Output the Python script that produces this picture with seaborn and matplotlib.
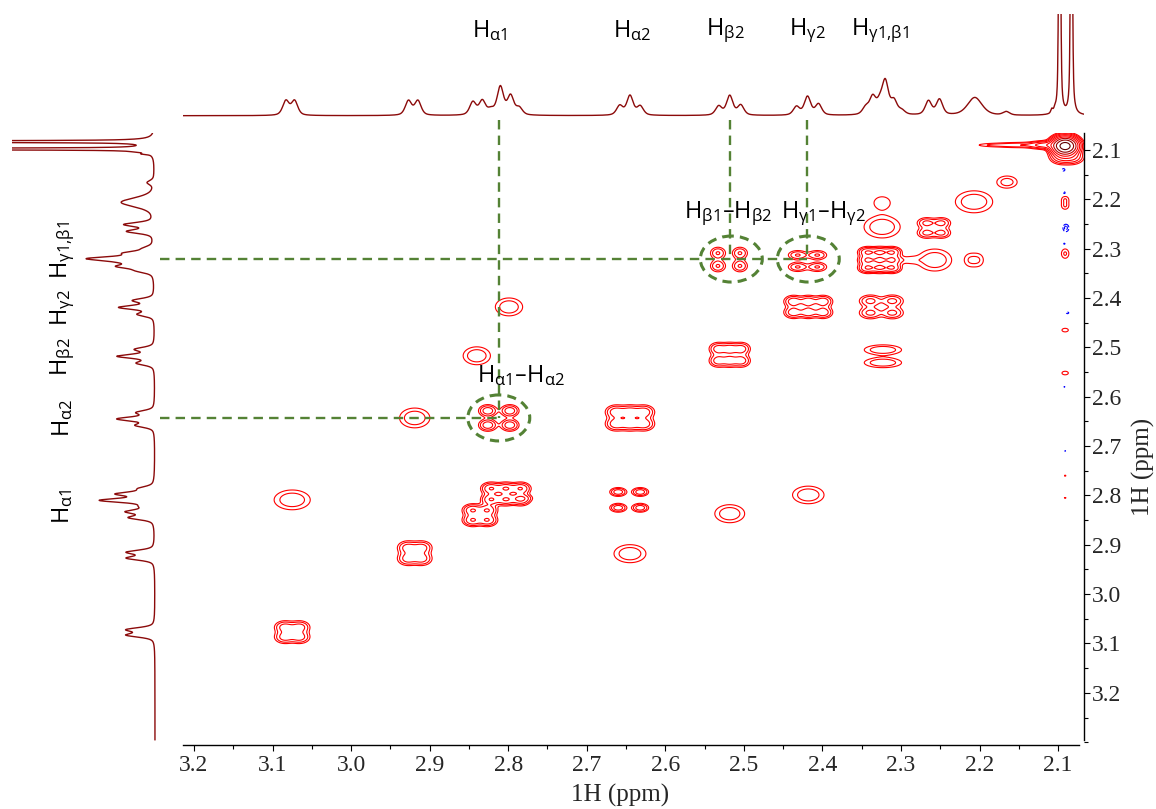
import numpy as np
import matplotlib
matplotlib.use('Agg')
import matplotlib.pyplot as plt
import seaborn as sns
from matplotlib.patches import Ellipse
from matplotlib.ticker import MultipleLocator, FormatStrFormatter

sns.set_theme(style='white')
plt.rcParams['font.family'] = ['Liberation Serif', 'DejaVu Serif']

# 1D proton lines: position (ppm), height (trace px), half width (ppm)
line_ppm = [3.083, 3.072, 2.927, 2.915,
            2.845, 2.833, 2.822, 2.810, 2.797, 2.786,
            2.658, 2.645, 2.632, 2.532, 2.518, 2.504,
            2.433, 2.419, 2.405,
            2.345, 2.336, 2.327, 2.320, 2.309, 2.299,
            2.265, 2.251, 2.206, 2.166, 2.108, 2.104, 2.098, 2.083]
line_height = [14.5, 14.5, 14.5, 14.5,
               13.0, 14.0, 5.0, 28.0, 19.0, 7.0,
               9.5, 19.5, 9.0, 9.0, 19.5, 10.0,
               8.5, 18.5, 11.0,
               7.0, 17.0, 10.0, 32.0, 13.5, 4.0,
               14.0, 15.5, 18.0, 3.5, 4.0, 3.0, 400.0, 400.0]
line_hwhm = [0.0048] * 27 + [0.011, 0.005, 0.0015, 0.0015, 0.0012, 0.0012]

# COSY cross peaks: centre (F2, F1), multiplet grid, spacing, amplitude, widths
peak_x = [3.075, 3.075, 2.919, 2.919, 2.812, 2.840, 2.799, 2.645, 2.646, 2.645,
          2.803, 2.836, 2.518, 2.418, 2.518, 2.519, 2.419, 2.418, 2.325, 2.323,
          2.327, 2.257, 2.324, 2.324, 2.258, 2.207, 2.207, 2.165,
          2.091, 2.089, 2.115, 2.150, 2.185, 2.290, 2.782,
          2.091, 2.091, 2.091, 2.091, 2.091, 2.091,
          2.093, 2.092, 2.090, 2.092, 2.088, 2.092, 2.091]
peak_y = [2.809, 3.077, 2.917, 2.643, 2.643, 2.517, 2.418, 2.643, 2.809, 2.918,
          2.797, 2.840, 2.837, 2.799, 2.515, 2.322, 2.325, 2.418, 2.418, 2.518,
          2.323, 2.323, 2.256, 2.207, 2.258, 2.205, 2.323, 2.165,
          2.092, 2.114, 2.090, 2.090, 2.090, 2.323, 2.805,
          2.207, 2.310, 2.465, 2.552, 2.760, 2.805,
          2.140, 2.187, 2.258, 2.290, 2.430, 2.580, 2.710]
peak_nx = [1, 2, 2, 1, 2, 1, 1, 3, 2, 1,
           3, 2, 1, 1, 3, 2, 2, 3, 2, 1,
           3, 1, 1, 1, 2, 1, 2, 1,
           1, 2, 1, 1, 1, 1, 1,
           1, 1, 1, 1, 1, 1,
           1, 1, 1, 1, 1, 1, 1]
peak_ny = [1, 2, 2, 1, 2, 1, 1, 2, 2, 1,
           2, 2, 1, 1, 2, 2, 2, 2, 2, 2,
           3, 1, 1, 1, 2, 1, 1, 1,
           1, 1, 1, 1, 1, 1, 1,
           2, 1, 1, 1, 1, 1,
           1, 1, 1, 1, 1, 1, 1]
peak_jx = [0, 0.019, 0.018, 0, 0.028, 0, 0, 0.018, 0.028, 0,
           0.019, 0.019, 0, 0, 0.015, 0.028, 0.025, 0.019, 0.028, 0,
           0.016, 0, 0, 0, 0.019, 0, 0.011, 0,
           0, 0.014, 0, 0, 0, 0, 0,
           0, 0, 0, 0, 0, 0,
           0, 0, 0, 0, 0, 0, 0]
peak_jy = [0, 0.020, 0.022, 0, 0.029, 0, 0, 0.024, 0.032, 0,
           0.022, 0.020, 0, 0, 0.024, 0.026, 0.024, 0.022, 0.024, 0.026,
           0.016, 0, 0, 0, 0.020, 0, 0, 0,
           0, 0, 0, 0, 0, 0, 0,
           0.013, 0, 0, 0, 0, 0,
           0, 0, 0, 0, 0, 0, 0]
peak_amp = [3.0, 4.5, 4.5, 3.0, 5.0, 3.0, 3.0, 5.0, 5.0, 3.0,
            6.0, 6.0, 3.0, 3.0, 4.5, 3.5, 3.5, 5.0, 4.0, 3.0,
            6.0, 3.0, 3.0, 1.6, 4.0, 3.0, 1.7, 2.5,
            150.0, 6.0, 8.0, 3.0, 1.5, 1.5, 1.6,
            1.8, 2.0, 1.5, 1.5, 1.15, 1.15,
            -1.5, -1.4, -2.2, -1.3, -1.4, -1.1, -1.1]
peak_sx = [0.0155, 0.0075, 0.0075, 0.013, 0.0066, 0.0117, 0.0117, 0.0075, 0.006, 0.0137,
           0.007, 0.007, 0.0128, 0.0135, 0.0065, 0.006, 0.0075, 0.0068, 0.0084, 0.016,
           0.0065, 0.0145, 0.0155, 0.0105, 0.007, 0.016, 0.006, 0.0095,
           0.008, 0.008, 0.012, 0.02, 0.015, 0.01, 0.008,
           0.004, 0.004, 0.0045, 0.0045, 0.002, 0.002,
           0.002, 0.0015, 0.003, 0.0015, 0.002, 0.0015, 0.0015]
peak_sy = [0.0135, 0.0075, 0.008, 0.0135, 0.007, 0.0122, 0.0122, 0.008, 0.005, 0.0123,
           0.007, 0.007, 0.0123, 0.012, 0.0075, 0.0075, 0.0058, 0.007, 0.0073, 0.0068,
           0.006, 0.015, 0.015, 0.0125, 0.0065, 0.015, 0.011, 0.009,
           0.009, 0.008, 0.0045, 0.0035, 0.0025, 0.006, 0.004,
           0.006, 0.008, 0.004, 0.004, 0.002, 0.002,
           0.003, 0.003, 0.006, 0.002, 0.002, 0.0015, 0.0015]

top_labels = ['α1', 'α2', 'β2', 'γ2', 'γ1{,}β1']
x_ticks = [3.2, 3.1, 3.0, 2.9, 2.8, 2.7, 2.6, 2.5, 2.4, 2.3, 2.2, 2.1]
y_ticks = [2.1, 2.2, 2.3, 2.4, 2.5, 2.6, 2.7, 2.8, 2.9, 3.0, 3.1, 3.2]

W, H = 1156, 809
fig = plt.figure(figsize=(W / 100, H / 100), dpi=100)
ax = fig.add_axes([183 / W, 1 - 745 / H, (1084 - 183) / W, (745 - 133) / H])
ax_top = fig.add_axes([183 / W, 1 - 120 / H, (1084 - 183) / W, (120 - 14) / H])
ax_left = fig.add_axes([12 / W, 1 - 745 / H, 148 / W, (745 - 133) / H])

xlim = (3.214, 2.067)
ylim = (3.3057, 2.0656)


def trace(ppm):
    out = np.zeros_like(ppm)
    for p, h, w in zip(line_ppm, line_height, line_hwhm):
        d = (ppm - p) / w
        out += h * (0.5 / (1 + d ** 2) + 0.5 * np.exp(-np.log(2) * d ** 2))
    return out


# 1D traces
trace_col = '#8b0a0a'
ppm_top = np.linspace(3.214, 2.067, 4000)
sns.lineplot(x=ppm_top, y=trace(ppm_top), ax=ax_top, color=trace_col, lw=1.0,
             sort=False, estimator=None)
ax_top.set_xlim(xlim)
ax_top.set_ylim(-4.3, 101.7)
ax_top.axis('off')

ppm_left = np.linspace(2.0656, 3.2955, 4000)
sns.lineplot(x=trace(ppm_left) * 1.85, y=ppm_left, ax=ax_left, color=trace_col, lw=1.0,
             sort=False, estimator=None)
ax_left.set_ylim(ylim)
ax_left.set_xlim(143, -5)
ax_left.axis('off')

# 2D map
gx = np.linspace(2.05, 3.23, 1200)
gy = np.linspace(2.05, 3.32, 950)
Z = np.zeros((gy.size, gx.size))
for x0, y0, nx_, ny_, jx, jy, a, sx_, sy_ in zip(peak_x, peak_y, peak_nx, peak_ny,
                                                  peak_jx, peak_jy, peak_amp, peak_sx, peak_sy):
    for i in range(nx_):
        for j in range(ny_):
            xc = x0 + (i - (nx_ - 1) / 2) * jx
            yc = y0 + (j - (ny_ - 1) / 2) * jy
            Z += a * np.outer(np.exp(-0.5 * ((gy - yc) / sy_) ** 2),
                              np.exp(-0.5 * ((gx - xc) / sx_) ** 2))

pos_levels = 1.8 ** np.arange(0, 10)
pos_colors = ['#ff0000'] * 6 + ['#c00000', '#900000', '#600000', '#400000']
ax.contour(gx, gy, Z, levels=pos_levels, colors=pos_colors, linewidths=0.8)
ax.contour(gx, gy, Z, levels=[-1.8, -1.0], colors='#0000ff', linewidths=0.8)

ax.set_xlim(xlim)
ax.set_ylim(ylim)
ax.set_facecolor('white')
for s in ['top', 'left']:
    ax.spines[s].set_visible(False)
for s in ['bottom', 'right']:
    ax.spines[s].set_color('black')
    ax.spines[s].set_linewidth(1.0)
ax.spines['bottom'].set_bounds(3.214, 2.073)
ax.spines['right'].set_bounds(2.0656, 3.2955)
ax.yaxis.tick_right()
ax.set_xticks(x_ticks)
ax.set_yticks(y_ticks)
ax.xaxis.set_minor_locator(MultipleLocator(0.05))
ax.yaxis.set_minor_locator(MultipleLocator(0.05))
ax.xaxis.set_major_formatter(FormatStrFormatter('%.1f'))
ax.yaxis.set_major_formatter(FormatStrFormatter('%.1f'))
ax.tick_params(which='major', length=4.5, width=0.8, color='black', labelsize=17, pad=3,
               bottom=True, right=True, left=False, top=False)
ax.tick_params(which='minor', length=3, width=0.8, color='black',
               bottom=True, right=True, left=False, top=False)
ax.tick_params(axis='y', pad=1.5)
ax.grid(False)

fig.text(620 / W, 1 - 795 / H, '1H (ppm)', ha='center', va='center', fontsize=18)
fig.text(1143 / W, 1 - 467 / H, '1H (ppm)', ha='center', va='center', fontsize=18, rotation=90)

# guide lines and circles
green = '#548235'
dash = dict(color=green, lw=1.7, linestyle=(0, (4, 2.6)), clip_on=False)
ax.plot([2.812, 2.812], [2.040, 2.643], **dash)
ax.plot([2.518, 2.518], [2.040, 2.322], **dash)
ax.plot([2.419, 2.419], [2.040, 2.322], **dash)
ax.plot([3.243, 2.419], [2.320, 2.320], **dash)
ax.plot([3.243, 2.812], [2.643, 2.643], **dash)
for cx, cy in [(2.812, 2.643), (2.516, 2.321), (2.418, 2.321)]:
    ax.add_patch(Ellipse((cx, cy), 0.0789, 0.0932, fill=False, edgecolor=green, lw=2.2,
                         linestyle=(0, (3, 2))))

lab = dict(ha='center', va='center', fontsize=17, fontfamily='Open Sans', color='black')
ax.text(2.520, 2.230, '$\\mathregular{H_{β1}–H_{β2}}$', **lab)
ax.text(2.399, 2.230, '$\\mathregular{H_{γ1}–H_{γ2}}$', **lab)
ax.text(2.784, 2.558, '$\\mathregular{H_{α1}–H_{α2}}$', **lab)

top_x = [490, 632, 725, 807, 880]
for x, t in zip(top_x, top_labels):
    fig.text(x / W, 1 - 31 / H, '$\\mathregular{H_{%s}}$' % t, **lab)
left_y = [506, 418, 357, 308, 250]
for y, t in zip(left_y, top_labels):
    fig.text(63 / W, 1 - y / H, '$\\mathregular{H_{%s}}$' % t, rotation=90, **lab)

fig.savefig('out.png', dpi=100, facecolor='white')
